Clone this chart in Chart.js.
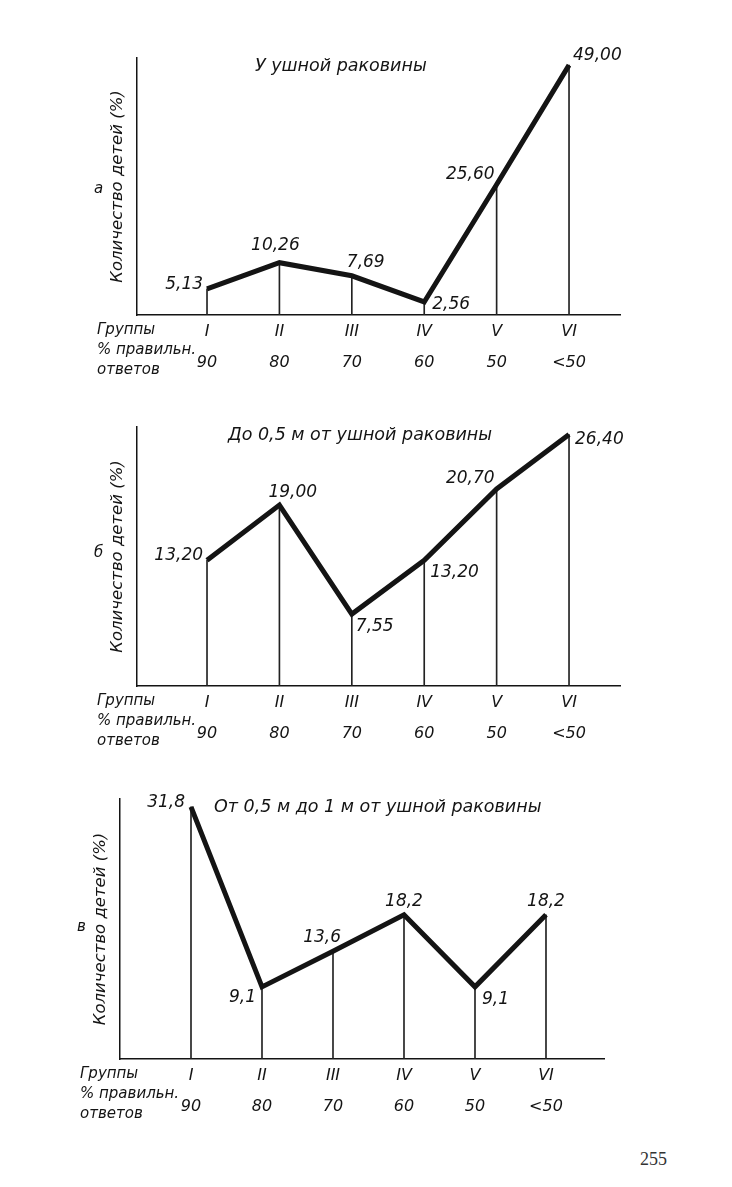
<!DOCTYPE html>
<html>
<head>
<meta charset="utf-8">
<script src="https://cdn.jsdelivr.net/npm/chart.js@4.4.0/dist/chart.umd.min.js"></script>
<style>
  html, body { margin:0; padding:0; background:#fff; }
  body { width:732px; height:1187px; position:relative; overflow:hidden; }
  .box { position:absolute; left:0; width:732px; }
  #pageNum { position:absolute; left:640px; top:1149px; font-family:"Liberation Serif", serif; font-size:18px; color:#333; }
</style>
</head>
<body>
<div class="box" style="top:0;height:385px"><canvas id="chartA"></canvas></div>
<div class="box" style="top:385px;height:371px"><canvas id="chartB"></canvas></div>
<div class="box" style="top:756px;height:373px"><canvas id="chartC"></canvas></div>
<div id="pageNum">255</div>
<script>
// data
const groups = ['I', 'II', 'III', 'IV', 'V', 'VI'];
const correctPct = ['90', '80', '70', '60', '50', '<50'];
const earValues = [5.13, 10.26, 7.69, 2.56, 25.60, 49.00];
const halfMeterValues = [13.20, 19.00, 7.55, 13.20, 20.70, 26.40];
const oneMeterValues = [31.8, 9.1, 13.6, 18.2, 9.1, 18.2];
const titles = ['У ушной раковины', 'До 0,5 м от ушной раковины', 'От 0,5 м до 1 м от ушной раковины'];
const letters = ['а', 'б', 'в'];
const yTitle = 'Количество детей (%)';
const caption = ['Группы', '% правильн.', 'ответов'];

// label placement: [dx, dy, align] from the point
const earLabelPos = [[-4,-4,'right'], [-4,-17,'center'], [-5,-13,'left'], [8,3,'left'], [-2,-10,'right'], [4,-10,'left']];
const halfLabelPos = [[-4,-5,'right'], [-11,-13,'left'], [4,12,'left'], [6,12,'left'], [-2,-10,'right'], [6,5,'left']];
const oneLabelPos = [[-6,-4,'right'], [-6,11,'right'], [8,-14,'right'], [0,-13,'center'], [7,13,'left'], [0,-13,'center']];

const ink = '#141414';
const fontFam = '"DejaVu Sans", sans-serif';

const marksPlugin = {
    id: 'marks',
    afterDatasetsDraw(chart, args, o) {
        const ctx = chart.ctx;
        const area = chart.chartArea;
        const meta = chart.getDatasetMeta(0);
        ctx.save();
        ctx.fillStyle = ink;
        ctx.textBaseline = 'middle';
        // values at points
        ctx.font = 'italic 17px ' + fontFam;
        meta.data.forEach(function(pt, i){
            const p = o.labelPos[i];
            ctx.textAlign = p[2];
            const v = chart.data.datasets[0].data[i].y;
            ctx.fillText(v.toFixed(o.decimals).replace('.', ','), pt.x + p[0], pt.y + p[1]);
        });
        // title
        ctx.font = 'italic 17.5px ' + fontFam;
        ctx.textAlign = 'left';
        ctx.fillText(o.title, area.left + o.titleX, area.top + 8);
        // panel letter
        ctx.font = 'italic 15px ' + fontFam;
        ctx.fillText(o.letter, area.left - 43, area.top + o.letterY);
        // caption under axis
        ctx.font = 'italic 15px ' + fontFam;
        ctx.fillText(caption[0], area.left - 40, area.bottom + 15);
        ctx.fillText(caption[1], area.left - 40, area.bottom + 35);
        ctx.fillText(caption[2], area.left - 40, area.bottom + 55);
        ctx.restore();
    }
};

function makeChart(id, values, o){
    const pts = values.map(function(v, i){ return {x: i, y: v}; });
    new Chart(document.getElementById(id), {
        type: 'line',
        data: {
            datasets: [{
                type: 'line',
                data: pts,
                borderColor: ink,
                borderWidth: 5,
                borderJoinStyle: 'miter',
                pointRadius: 0,
                tension: 0,
                clip: false,
                order: 0
            }, {
                type: 'bar',
                data: pts,
                backgroundColor: '#222',
                borderWidth: 0,
                barThickness: 1,
                order: 1
            }]
        },
        options: {
            responsive: true,
            maintainAspectRatio: false,
            animation: false,
            layout: { padding: o.padding },
            plugins: {
                legend: { display: false },
                tooltip: { enabled: false },
                marks: o
            },
            scales: {
                x: {
                    type: 'linear',
                    offset: false,
                    min: o.xMin,
                    max: o.xMax,
                    grid: { display: false, drawTicks: false },
                    border: { display: true, color: ink, width: 1.5 },
                    afterBuildTicks: function(s){ s.ticks = groups.map(function(g, i){ return {value: i}; }); },
                    afterFit: function(s){ s.height = 70; },
                    ticks: {
                        padding: 1.5,
                        color: ink,
                        maxRotation: 0,
                        autoSkip: false,
                        font: { family: fontFam, style: 'italic', size: 16, lineHeight: 1.94 },
                        callback: function(v){ return [groups[v], correctPct[v]]; }
                    }
                },
                y: {
                    min: 0,
                    max: o.yMax,
                    grid: { display: false, drawTicks: false },
                    border: { display: true, color: ink, width: 1.5 },
                    ticks: { display: false },
                    afterFit: function(s){ s.width = 40; },
                    title: {
                        display: true,
                        text: yTitle,
                        color: ink,
                        padding: { top: 11, bottom: 0 },
                        font: { family: fontFam, style: 'italic', size: 16.5 }
                    }
                }
            }
        },
        plugins: [marksPlugin]
    });
}

makeChart('chartA', earValues, {
    padding: { left: 97, top: 58, right: 112, bottom: 0 },
    xMin: -0.967, xMax: 5.704, yMax: 50.4,
    decimals: 2, labelPos: earLabelPos,
    title: titles[0], titleX: 118, letter: letters[0], letterY: 131
});
makeChart('chartB', halfMeterValues, {
    padding: { left: 97, top: 42, right: 112, bottom: 0 },
    xMin: -0.967, xMax: 5.704, yMax: 27.2,
    decimals: 2, labelPos: halfLabelPos,
    title: titles[1], titleX: 91, letter: letters[1], letterY: 126
});
makeChart('chartC', oneMeterValues, {
    padding: { left: 80, top: 43, right: 128, bottom: 0 },
    xMin: -1.0, xMax: 5.817, yMax: 32.8,
    decimals: 1, labelPos: oneLabelPos,
    title: titles[2], titleX: 94, letter: letters[2], letterY: 128
});
</script>
</body>
</html>
